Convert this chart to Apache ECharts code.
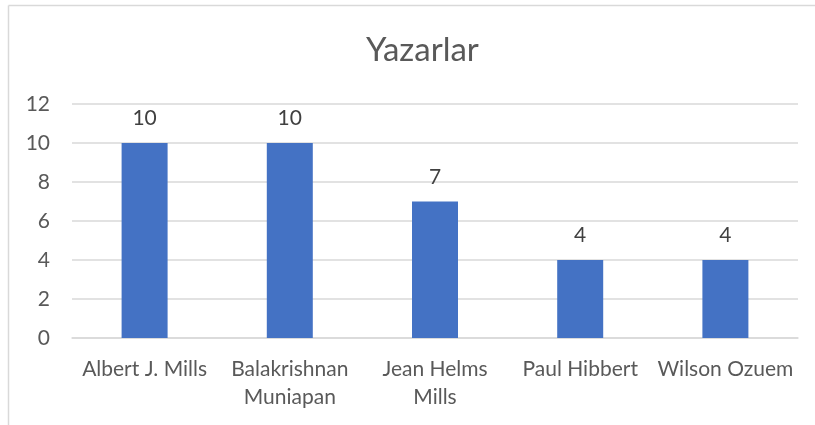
<!DOCTYPE html>
<html><head><meta charset="utf-8">
<script src="https://cdn.jsdelivr.net/npm/echarts@6/dist/echarts.min.js"></script>
<style>html,body{margin:0;padding:0;background:#fff}#c{width:815px;height:425px}</style>
</head><body><div id="c"></div>
<script>
const title = "Yazarlar";
const categories = ["Albert J. Mills", "Balakrishnan\nMuniapan", "Jean Helms\nMills", "Paul Hibbert", "Wilson Ozuem"];
const values = [10, 10, 7, 4, 4];
const yTicks = { min: 0, max: 12, interval: 2 };

const FONT = "Lato";
const chart = echarts.init(document.getElementById('c'), null, { renderer: 'canvas' });
chart.setOption({
  animation: false,
  backgroundColor: '#fff',
  title: {
    text: title, left: 361, top: 29,
    textStyle: { fontFamily: FONT, fontSize: 33, fontWeight: 'normal', color: '#595959' }
  },
  graphic: [
    { type: 'line', shape: { x1: 8.5, y1: 5.5, x2: 815, y2: 5.5 }, style: { stroke: '#d9d9d9', lineWidth: 1.5 }, silent: true },
    { type: 'line', shape: { x1: 8.5, y1: 5.5, x2: 8.5, y2: 425 }, style: { stroke: '#d9d9d9', lineWidth: 1.5 }, silent: true }
  ],
  grid: { left: 72, right: 17, top: 104, bottom: 87, containLabel: false },
  xAxis: {
    type: 'category', data: categories,
    axisLine: { lineStyle: { color: '#d9d9d9', width: 1.5 } },
    axisTick: { show: false },
    axisLabel: { fontFamily: FONT, fontSize: 21, color: '#595959', margin: 17, lineHeight: 28, interval: 0 }
  },
  yAxis: {
    type: 'value', min: yTicks.min, max: yTicks.max, interval: yTicks.interval,
    axisLine: { show: false }, axisTick: { show: false },
    splitLine: { lineStyle: { color: '#d9d9d9', width: 1.5 } },
    axisLabel: { fontFamily: FONT, fontSize: 21, color: '#595959', margin: 22 }
  },
  series: [{
    type: 'bar', data: values, barWidth: 46,
    itemStyle: { color: '#4472C4' },
    label: { show: true, position: 'top', distance: 14, fontFamily: FONT, fontSize: 21, color: '#404040' }
  }]
});
</script></body></html>
